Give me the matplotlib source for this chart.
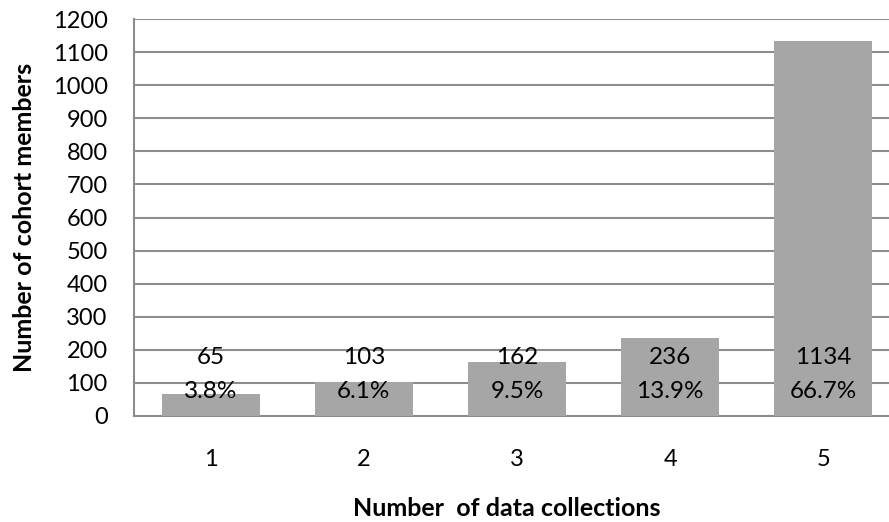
import matplotlib.pyplot as plt

# cohort members by how many data collections they took part in
collections = [1, 2, 3, 4, 5]
members = [65, 103, 162, 236, 1134]
pct_labels = ["3.8%", "6.1%", "9.5%", "13.9%", "66.7%"]
pct_values = [3.8, 6.1, 9.5, 13.9, 66.7]

plt.rcParams['font.family'] = ['Lato', 'DejaVu Sans']

fig = plt.figure(figsize=(8.89, 5.22), dpi=100)
ax = fig.add_axes([134 / 889, 106 / 522, 766 / 889, 397 / 522])

# thin red percentage series underneath, grey counts stacked on top
pct_frac = [p / 100 for p in pct_values]
ax.bar(collections, pct_frac, width=0.64, color='#C0504D',
       edgecolor='#C0504D', linewidth=0.8, zorder=2)
ax.bar(collections, members, width=0.64, bottom=pct_frac,
       color='#A6A6A6', zorder=3)

for x, n, p in zip(collections, members, pct_labels):
    ax.text(x, 176, str(n), ha='center', va='center', fontsize=17.5, zorder=4)
    ax.text(x, 73, p, ha='center', va='center', fontsize=17.5, zorder=4)

ax.set_xlim(0.5, 5.5)
ax.set_ylim(0, 1200)
ax.set_yticks(range(0, 1201, 100))
ax.set_xticks(collections)
ax.tick_params(axis='both', length=0, labelsize=17)
ax.tick_params(axis='x', pad=24)
ax.tick_params(axis='y', pad=19)

ax.yaxis.grid(True, color='#8C8C8C', linewidth=1.5, zorder=1)
ax.set_axisbelow(True)
for side in ['top', 'right']:
    ax.spines[side].set_visible(False)
for side in ['left', 'bottom']:
    ax.spines[side].set_color('#8C8C8C')
    ax.spines[side].set_linewidth(1.5)

ax.set_ylabel('Number of cohort members', fontsize=18, fontweight='bold', labelpad=12)
fig.text(507 / 889, 1 - 508 / 522, 'Number  of data collections', ha='center',
         va='center', fontsize=18, fontweight='bold')

fig.savefig('out.png', dpi=100)
